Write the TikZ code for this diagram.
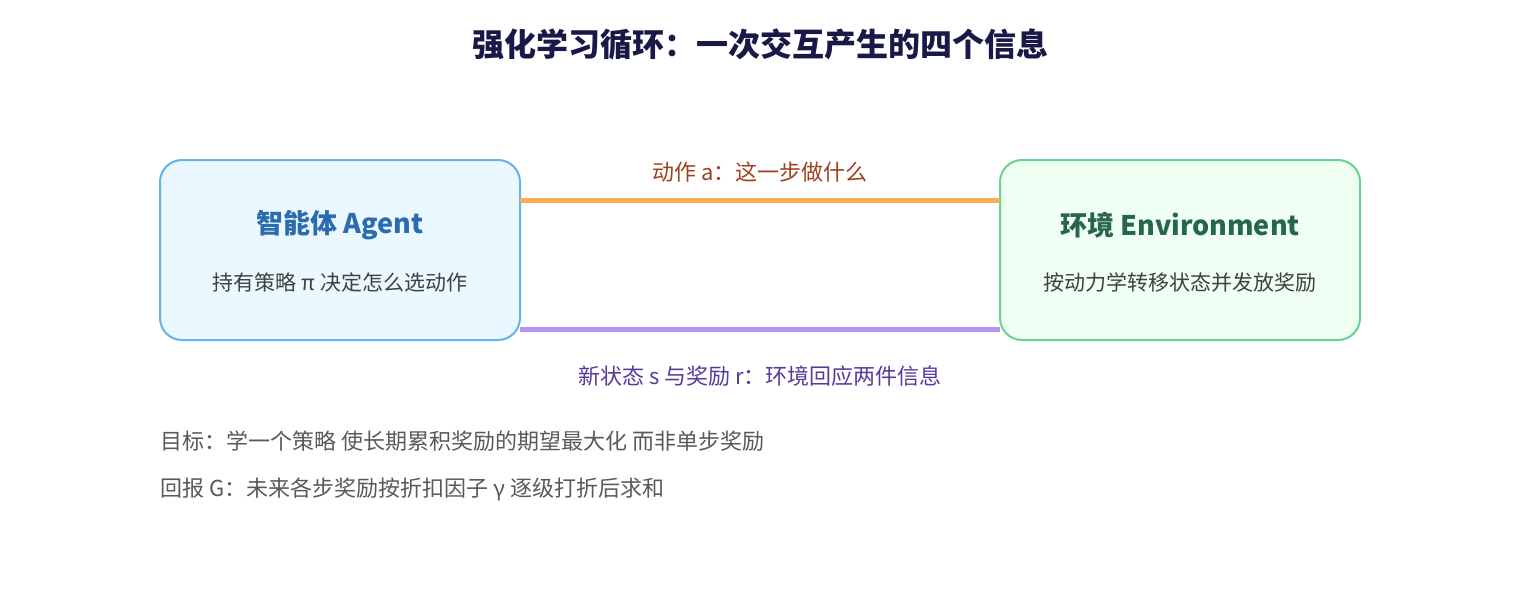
\documentclass[tikz,border=0pt]{standalone}
\usepackage{fontspec}
\setmainfont{Noto Sans CJK SC}
\begin{document}
\begin{tikzpicture}[x=0.5pt,y=-0.5pt,
  box/.style={rounded corners=11pt,line width=1pt},
  ttl/.style={font=\fontsize{13.5}{16}\selectfont\bfseries},
  sub/.style={font=\fontsize{10.5}{13}\selectfont,text=black!75},
  lbl/.style={font=\fontsize{11}{13}\selectfont},
  note/.style={font=\fontsize{11}{13}\selectfont,text=black!65,anchor=west,inner sep=0}]
\definecolor{agb}{HTML}{63B3ED}\definecolor{agf}{HTML}{EBF8FF}\definecolor{agt}{HTML}{2B6CB0}
\definecolor{enb}{HTML}{68D391}\definecolor{enf}{HTML}{F0FFF4}\definecolor{ent}{HTML}{276749}
\definecolor{ora}{HTML}{F6AD55}\definecolor{pur}{HTML}{B794F4}
\definecolor{ort}{HTML}{9C4221}\definecolor{put}{HTML}{553C9A}
\useasboundingbox (0,0) rectangle (1520,600);
\node[font=\fontsize{16}{19}\selectfont\bfseries,text=black!80!blue!90] (title) at (760,44) {强化学习循环：一次交互产生的四个信息};
\draw[box,draw=agb,fill=agf] (160,160) rectangle (520,340);
\draw[box,draw=enb,fill=enf] (1000,160) rectangle (1360,340);
\coordinate (a1) at (520,200); \coordinate (a2) at (1000,200);
\coordinate (s1) at (520,329); \coordinate (s2) at (1000,329);
\node[ttl,text=agt] (at) at (340,225) {智能体 Agent};
\node[sub] (as) at (340,282) {持有策略 π 决定怎么选动作};
\node[ttl,text=ent] (et) at (1180,225) {环境 Environment};
\node[sub] (es) at (1180,282) {按动力学转移状态并发放奖励};
\draw[ora,line width=2.5pt] (a1) -- (a2);
\draw[pur,line width=2.5pt] (s1) -- (s2);
\node[lbl,text=ort] (al) at (760,172) {动作 a：这一步做什么};
\node[lbl,text=put] (sl) at (760,376) {新状态 s 与奖励 r：环境回应两件信息};
\node[note] (n1) at (160,441) {目标：学一个策略 使长期累积奖励的期望最大化 而非单步奖励};
\node[note] (n2) at (160,489) {回报 G：未来各步奖励按折扣因子 γ 逐级打折后求和};
\end{tikzpicture}
\end{document}
